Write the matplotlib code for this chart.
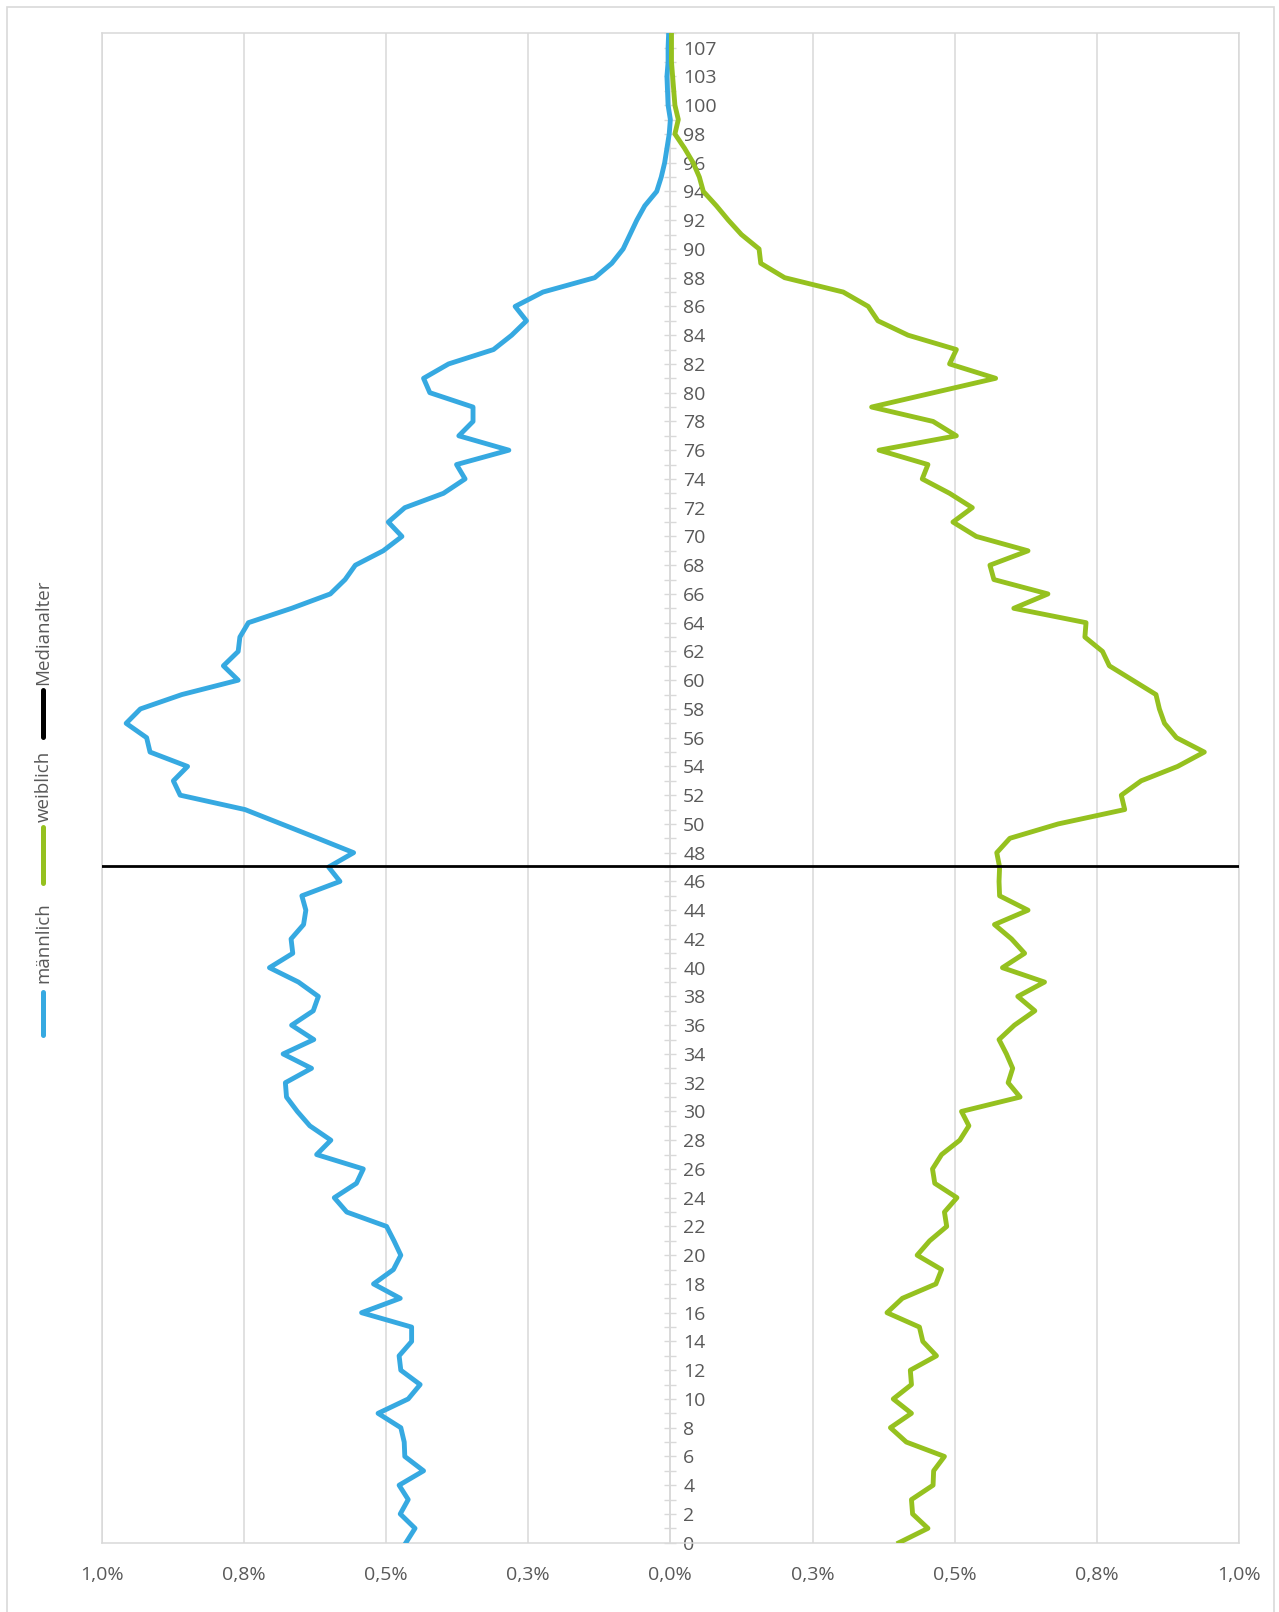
import matplotlib
matplotlib.use("Agg")
import matplotlib.pyplot as plt
from matplotlib.lines import Line2D
from matplotlib.patches import Rectangle
import numpy as np

plt.rcParams["font.family"] = ["Open Sans", "DejaVu Sans"]

# Altersklassen (Index 0..105), nur jede zweite wird beschriftet
ages = list(range(101)) + [102, 103, 105, 107, 108]

# Anteil an der Gesamtbevoelkerung in %
maennlich = [
    0.465, 0.449, 0.475, 0.461, 0.477, 0.434, 0.467, 0.468, 0.474, 0.514,
    0.461, 0.440, 0.474, 0.477, 0.455, 0.455, 0.543, 0.475, 0.522, 0.487,
    0.474, 0.486, 0.499, 0.569, 0.591, 0.552, 0.540, 0.622, 0.597, 0.634,
    0.656, 0.675, 0.677, 0.631, 0.681, 0.627, 0.666, 0.628, 0.619, 0.654,
    0.705, 0.664, 0.667, 0.645, 0.641, 0.648, 0.581, 0.601, 0.557, 0.620,
    0.684, 0.748, 0.862, 0.874, 0.849, 0.915, 0.921, 0.957, 0.932, 0.859,
    0.760, 0.786, 0.760, 0.757, 0.742, 0.666, 0.598, 0.572, 0.554, 0.505,
    0.472, 0.496, 0.467, 0.399, 0.361, 0.376, 0.284, 0.372, 0.347, 0.347,
    0.423, 0.434, 0.390, 0.311, 0.279, 0.253, 0.273, 0.224, 0.133, 0.103,
    0.083, 0.071, 0.059, 0.045, 0.024, 0.016, 0.010, 0.006, 0.002, 0.000,
    0.004, 0.005, 0.006, 0.004, 0.004, 0.003,
]
weiblich = [
    0.402, 0.453, 0.426, 0.424, 0.462, 0.463, 0.482, 0.415, 0.387, 0.424,
    0.392, 0.424, 0.422, 0.468, 0.444, 0.438, 0.381, 0.408, 0.467, 0.477,
    0.434, 0.456, 0.486, 0.482, 0.504, 0.465, 0.461, 0.477, 0.509, 0.525,
    0.512, 0.615, 0.594, 0.602, 0.591, 0.578, 0.605, 0.641, 0.611, 0.658,
    0.584, 0.623, 0.600, 0.570, 0.629, 0.579, 0.578, 0.579, 0.574, 0.597,
    0.682, 0.799, 0.793, 0.828, 0.892, 0.939, 0.890, 0.869, 0.860, 0.854,
    0.813, 0.772, 0.760, 0.729, 0.731, 0.604, 0.664, 0.569, 0.562, 0.629,
    0.538, 0.497, 0.531, 0.491, 0.443, 0.453, 0.367, 0.503, 0.462, 0.354,
    0.463, 0.572, 0.491, 0.503, 0.418, 0.365, 0.348, 0.304, 0.201, 0.159,
    0.156, 0.125, 0.102, 0.081, 0.058, 0.051, 0.040, 0.025, 0.008, 0.014,
    0.008, 0.006, 0.004, 0.002, 0.002, 0.002,
]
medianalter = 47.1
median_x = [-1.0, 1.0]

x_ticks = [-1.0, -0.75, -0.5, -0.25, 0.0, 0.25, 0.5, 0.75, 1.0]
x_labels = ["1,0%", "0,8%", "0,5%", "0,3%", "0,0%", "0,3%", "0,5%", "0,8%", "1,0%"]

BLUE = "#36A9E1"
GREEN = "#95C11F"
GRID = "#D9D9D9"
TXT = "#595959"

W, H = 1279, 1612
fig = plt.figure(figsize=(W / 100, H / 100), dpi=100)
ax = fig.add_axes([101.7 / W, 1 - 1542.7 / H, (1239 - 101.7) / W, (1542.7 - 33.3) / H])

idx = np.arange(len(ages))
ax.plot(-np.array(maennlich), idx, color=BLUE, lw=3.5, zorder=3)
ax.plot(weiblich, idx, color=GREEN, lw=3.5, zorder=4)
ax.plot(median_x, [medianalter] * 2, color="black", lw=2.0, zorder=5)

ax.set_xlim(-1, 1)
ax.set_ylim(0, len(ages) - 1)

ax.set_xticks(x_ticks)
ax.set_xticklabels(x_labels)
ax.tick_params(axis="x", length=0, pad=17, labelsize=14, labelcolor=TXT)
ax.grid(axis="x", color=GRID, lw=1.1, zorder=0)

# vertical category axis sits in the middle, labels to its right
ax.set_yticks(idx)
ax.set_yticklabels([str(a) if i % 2 == 0 else "" for i, a in enumerate(ages)])
ax.yaxis.set_ticks_position("right")
ax.spines["right"].set_position(("data", 0))
ax.tick_params(axis="y", direction="inout", length=8.5, width=1.0, color=GRID,
               pad=5.0, labelsize=14, labelcolor=TXT)

for side in ["left", "top", "bottom", "right"]:
    ax.spines[side].set_color(GRID)
    ax.spines[side].set_linewidth(1.1)
ax.axvline(1, color=GRID, lw=1.1, clip_on=False, zorder=1)

# rotated legend on the left
legend_items = [
    ("männlich", BLUE, 991.7, 1035, 983.3),
    ("weiblich", GREEN, 826.7, 883.3, 822.3),
    ("Medianalter", "black", 690, 736.7, 685),
]
lx = 43.3 / W
for label, col, y0, y1, ty in legend_items:
    fig.add_artist(Line2D([lx, lx], [1 - y0 / H, 1 - y1 / H], color=col, lw=3.6,
                          solid_capstyle="round", transform=fig.transFigure))
    fig.text(lx, 1 - ty / H, label, rotation=90, ha="center", va="bottom",
             fontsize=13.5, color=TXT)

# chart border
fig.add_artist(Rectangle((7.3 / W, -0.01), (1274 - 7.3) / W, 1.01 - 7.3 / H,
                         transform=fig.transFigure, fill=False,
                         edgecolor=GRID, lw=1.2))

fig.savefig("out.png", dpi=100, facecolor="white")
